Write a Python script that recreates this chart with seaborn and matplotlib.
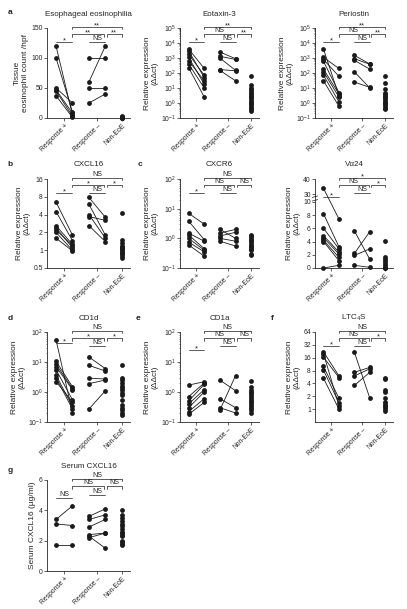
import numpy as np
import pandas as pd
import matplotlib
matplotlib.use("Agg")
import matplotlib.pyplot as plt
import seaborn as sns

# data (pre / post values per patient, Non-EoE unpaired)
groups = ["Response +", "Response –", "Non-EoE"]

eos_pos_pre = [120, 100, 50, 47, 45, 37]
eos_pos_post = [5, 10, 25, 8, 3, 1]
eos_neg_pre = [100, 60, 50, 25]
eos_neg_post = [100, 120, 50, 40]
eos_non = [3, 2.5, 2, 1.5, 1, 0.5, 0, 0]

eot_pos_pre = [4000, 3000, 1800, 1100, 650, 400, 230]
eot_pos_post = [200, 50, 70, 18, 30, 10, 2.5]
eot_neg_pre = [2500, 1300, 1000, 170, 150]
eot_neg_post = [900, 800, 150, 140, 30]
eot_non = [60, 15, 10, 8, 6, 5, 4, 3, 2.5, 2, 1.5, 1.2, 1, 0.8, 0.6, 0.5, 0.4, 0.3]

per_pos_pre = [4000, 1100, 800, 600, 180, 120, 70, 30]
per_pos_post = [3, 200, 60, 5, 4, 2.5, 1.2, 0.6]
per_neg_pre = [1500, 900, 700, 120, 25]
per_neg_post = [400, 380, 180, 10, 11]
per_non = [60, 20, 8, 5, 4, 3, 2.5, 2, 1.5, 1.2, 1, 0.8, 0.6, 0.5, 0.4]

cxcl_pos_pre = [6.5, 4.5, 2.6, 2.4, 2.2, 2.0, 1.6]
cxcl_pos_post = [1.8, 1.45, 1.25, 1.1, 1.2, 1.0, 0.97]
cxcl_neg_pre = [7.8, 6.0, 4.0, 3.7, 2.6]
cxcl_neg_post = [3.6, 1.8, 1.6, 3.2, 1.4]
cxcl_non = [4.2, 1.5, 1.3, 1.2, 1.15, 1.1, 1.05, 1.0, 0.95, 0.9, 0.85, 0.8, 0.75]

cxcr_pos_pre = [7, 3.8, 1.5, 1.3, 1.0, 0.75, 0.6]
cxcr_pos_post = [3, 0.9, 0.8, 0.45, 0.4, 0.35, 0.25]
cxcr_neg_pre = [2, 1.5, 1.2, 1.0, 0.8]
cxcr_neg_post = [1.0, 2, 1.6, 0.8, 0.55]
cxcr_non = [1.3, 1.2, 1.0, 0.9, 0.8, 0.7, 0.6, 0.55, 0.5, 0.45, 0.4, 0.3, 0.28]

va_pos_pre = [34, 8.2, 6, 4.9, 4.6, 4.2, 4.0, 0]
va_pos_post = [7.4, 3.2, 2.9, 2.4, 2.1, 1.6, 1.1, 0.4]
va_neg_pre = [5.6, 2.2, 1.9, 0.4]
va_neg_post = [1.3, 5.5, 2.9, 0.1]
va_non = [4.1, 1.6, 1.4, 1.1, 0.8, 0.5, 0.2, 0, 0]

cd1d_pos_pre = [55, 10.5, 8.5, 7, 5.5, 3.6, 3, 2.2]
cd1d_pos_post = [0.2, 1.5, 1.3, 1.2, 0.55, 0.33, 0.27, 0.47]
cd1d_neg_pre = [14.7, 7.7, 2.9, 1.9, 0.27]
cd1d_neg_post = [6, 5, 2.7, 2.5, 1.1]
cd1d_non = [7.7, 3, 2.5, 2, 1.6, 1.4, 1.2, 0.95, 0.8, 0.55, 0.38, 0.3, 0.25, 0.2, 0.17]

cd1a_pos_pre = [1.7, 0.7, 0.5, 0.4, 0.3, 0.22, 0.18]
cd1a_pos_post = [2.2, 2.0, 1.8, 1.2, 1.0, 0.6, 0.45]
cd1a_neg_pre = [2.5, 0.6, 0.3, 0.25]
cd1a_neg_post = [1.1, 0.3, 0.2, 3.5]
cd1a_non = [2.3, 1.5, 1.2, 1.0, 0.9, 0.8, 0.7, 0.6, 0.5, 0.45, 0.4, 0.35, 0.3, 0.25, 0.2]

ltc_pos_pre = [22, 20, 16.5, 10, 8.2, 5.3]
ltc_pos_post = [6, 1.2, 5.5, 1.8, 1.4, 1.0]
ltc_neg_pre = [21.5, 7.3, 6, 3.6]
ltc_neg_post = [1.8, 9.5, 8.8, 7.3]
ltc_non = [5.5, 5, 2.8, 2.5, 1.8, 1.5, 1.3, 1.2, 1.1, 1.0, 0.9]

ser_pos_pre = [3.4, 3.1, 1.7]
ser_pos_post = [4.3, 3.0, 1.7]
ser_neg_pre = [3.6, 3.4, 2.9, 2.4, 2.3, 2.2]
ser_neg_post = [4.1, 3.7, 3.4, 2.5, 1.5, 2.5]
ser_non = [4.0, 3.7, 3.5, 3.3, 3.1, 3.0, 2.8, 2.6, 2.5, 2.4, 2.3, 2.0, 1.9, 1.8, 1.7]

# significance labels: (0,1), (2,3), (1,3), (3,4), (1,4)
sig = {
    "a": ["*", "NS", "**", "**", "**"],
    "eot": ["*", "NS", "NS", "**", "**"],
    "per": ["*", "NS", "NS", "**", "**"],
    "b": ["*", "NS", "*", "*", "NS"],
    "c": ["*", "NS", "NS", "NS", "NS"],
    "va": ["*", "NS", "NS", "*", "*"],
    "d": ["*", "NS", "*", "*", "NS"],
    "e": ["*", "NS", "NS", "NS", "NS"],
    "f": ["*", "NS", "NS", "*", "NS"],
    "g": ["NS", "NS", "NS", "NS", "NS"],
}

sns.set_theme(style="ticks")
plt.rcParams["font.family"] = ["Liberation Sans", "DejaVu Sans"]
plt.rcParams["mathtext.fontset"] = "custom"
plt.rcParams["mathtext.rm"] = "Liberation Sans"
plt.rcParams["mathtext.it"] = "Liberation Sans:italic"
plt.rcParams["mathtext.default"] = "regular"

W, H = 407, 609
fig = plt.figure(figsize=(W / 100, H / 100), dpi=100)

cols = [(47, 130), (180, 259), (315, 393)]
rows = [(28, 118), (179, 268), (332, 422), (480, 571)]


def make_ax(r, c):
    x0, x1 = cols[c]
    y0, y1 = rows[r]
    return fig.add_axes([x0 / W, 1 - y1 / H, (x1 - x0) / W, (y1 - y0) / H])


def bracket(ax, x0, x1, yf, text, tails=False):
    tr = ax.get_xaxis_transform()
    h = 0.025
    if tails:
        xs, ys = [x0, x0, x1, x1], [yf - h, yf, yf, yf - h]
    else:
        xs, ys = [x0, x1], [yf, yf]
    ax.plot(xs, ys, color="k", lw=0.5, transform=tr, clip_on=False)
    dy = -0.025 if "*" in text else 0.0
    ax.text((x0 + x1) / 2, yf + dy, text, transform=tr, ha="center",
            va="bottom", fontsize=5.5 if "*" in text else 5)


def draw(ax, pp, qp, pn, qn, non, title, ylabel, labels, b01=0.84):
    rows_ = []
    for i, (a, b) in enumerate(zip(pp, qp)):
        rows_ += [(0, a, f"p{i}"), (1, b, f"p{i}")]
    for i, (a, b) in enumerate(zip(pn, qn)):
        rows_ += [(2, a, f"n{i}"), (3, b, f"n{i}")]
    paired = pd.DataFrame(rows_, columns=["x", "y", "pair"])
    single = pd.DataFrame({"x": 4, "y": non, "pair": "non"})
    sns.lineplot(data=paired, x="x", y="y", units="pair", estimator=None,
                 color="k", lw=0.6, ax=ax, legend=False)
    sns.scatterplot(data=pd.concat([paired, single]), x="x", y="y",
                    color="k", s=12, linewidth=0, ax=ax, clip_on=False,
                    legend=False, zorder=3)
    ax.set_xlim(-0.55, 4.5)
    ax.set_xticks([0.5, 2.5, 4])
    ax.set_xticklabels(groups, rotation=45, ha="right", rotation_mode="anchor",
                       fontsize=4.8)
    ax.set_xlabel("")
    ax.set_ylabel(ylabel, fontsize=6, labelpad=2, linespacing=1.1)
    ax.set_title(title, fontsize=5.8, pad=9)
    ax.tick_params(length=2, width=0.5, labelsize=4.9, pad=1)
    ax.tick_params(which="minor", length=1, width=0.4)
    for s in ["left", "bottom"]:
        ax.spines[s].set_linewidth(0.6)
    sns.despine(ax=ax)
    l01, l23, l13, l34, l14 = labels
    bracket(ax, 0, 1, b01, l01)
    bracket(ax, 2, 3, 0.84, l23)
    bracket(ax, 1, 2.92, 0.93, l13, tails=True)
    bracket(ax, 3.08, 4, 0.93, l34, tails=True)
    bracket(ax, 1, 4, 1.01, l14, tails=True)


def log10_axis(ax, lo, hi):
    ax.set_yscale("log")
    ax.set_ylim(lo, hi)
    ax.set_yticks([10.0 ** k for k in range(int(np.log10(lo)), int(np.log10(hi)) + 1)])


def log2_axis(ax, ticks, lo, hi):
    ax.set_yscale("log", base=2)
    ax.set_ylim(lo, hi)
    ax.set_yticks(ticks)
    ax.set_yticklabels([f"{t:g}" for t in ticks])
    ax.yaxis.set_minor_locator(matplotlib.ticker.NullLocator())


rel = "Relative expression\n(ΔΔct)"

# row a
ax = make_ax(0, 0)
draw(ax, eos_pos_pre, eos_pos_post, eos_neg_pre, eos_neg_post, eos_non,
     "Esophageal eosinophilia", "Tissue\neosinophil count /hpf", sig["a"])
ax.set_ylim(0, 150)
ax.set_yticks([0, 50, 100, 150])

ax = make_ax(0, 1)
draw(ax, eot_pos_pre, eot_pos_post, eot_neg_pre, eot_neg_post, eot_non,
     "Eotaxin-3", rel, sig["eot"])
log10_axis(ax, 0.1, 1e5)

ax = make_ax(0, 2)
draw(ax, per_pos_pre, per_pos_post, per_neg_pre, per_neg_post, per_non,
     "Periostin", rel, sig["per"])
log10_axis(ax, 0.1, 1e5)

# row b/c
ax = make_ax(1, 0)
draw(ax, cxcl_pos_pre, cxcl_pos_post, cxcl_neg_pre, cxcl_neg_post, cxcl_non,
     "CXCL16", rel, sig["b"])
log2_axis(ax, [0.5, 1, 2, 4, 8, 16], 0.5, 16)

ax = make_ax(1, 1)
draw(ax, cxcr_pos_pre, cxcr_pos_post, cxcr_neg_pre, cxcr_neg_post, cxcr_non,
     "CXCR6", rel, sig["c"])
log10_axis(ax, 0.1, 100)


def va_fwd(y):
    y = np.asarray(y, dtype=float)
    return np.where(y <= 10, y, np.where(y >= 30, 11.1 + (y - 30) * 0.234,
                                         10 + (y - 10) * 0.055))


def va_inv(z):
    z = np.asarray(z, dtype=float)
    return np.where(z <= 10, z, np.where(z >= 11.1, 30 + (z - 11.1) / 0.234,
                                         10 + (z - 10) / 0.055))


ax = make_ax(1, 2)
ax.set_yscale("function", functions=(va_fwd, va_inv))
draw(ax, va_pos_pre, va_pos_post, va_neg_pre, va_neg_post, va_non,
     "Vα24", rel, sig["va"], b01=0.80)
ax.set_ylim(0, 40)
ax.set_yticks([0, 2, 4, 6, 8, 10, 30, 40])
ax.yaxis.set_minor_locator(matplotlib.ticker.NullLocator())
brk = matplotlib.transforms.blended_transform_factory(ax.transAxes, ax.transData)
for yb in (14, 24):
    ax.plot([-0.035, 0.035], [yb - 2, yb + 2], color="k", lw=0.5,
            transform=brk, clip_on=False)

# row d/e/f
ax = make_ax(2, 0)
draw(ax, cd1d_pos_pre, cd1d_pos_post, cd1d_neg_pre, cd1d_neg_post, cd1d_non,
     "CD1d", rel, sig["d"], b01=0.88)
log10_axis(ax, 0.1, 100)

ax = make_ax(2, 1)
draw(ax, cd1a_pos_pre, cd1a_pos_post, cd1a_neg_pre, cd1a_neg_post, cd1a_non,
     "CD1a", rel, sig["e"], b01=0.80)
log10_axis(ax, 0.1, 100)

ax = make_ax(2, 2)
draw(ax, ltc_pos_pre, ltc_pos_post, ltc_neg_pre, ltc_neg_post, ltc_non,
     "LTC$_4$S", rel, sig["f"])
log2_axis(ax, [1, 2, 4, 8, 16, 32, 64], 0.5, 64)

# row g
ax = make_ax(3, 0)
draw(ax, ser_pos_pre, ser_pos_post, ser_neg_pre, ser_neg_post, ser_non,
     "Serum CXCL16", "Serum CXCL16 (µg/ml)", sig["g"], b01=0.80)
ax.set_ylim(0, 6)
ax.set_yticks([0, 2, 4, 6])

# panel letters
for t, x, y in [("a", 10, 12), ("b", 10, 164), ("c", 140, 164), ("d", 10, 318),
                ("e", 138, 318), ("f", 272, 318), ("g", 10, 470)]:
    fig.text(x / W, 1 - y / H, t, fontsize=6, fontweight="bold",
             ha="center", va="center")

fig.savefig("out.png", dpi=100)
